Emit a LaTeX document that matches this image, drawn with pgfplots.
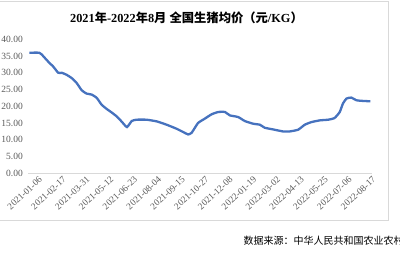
\documentclass[border=0pt]{standalone}
\usepackage{fontspec}
\setmainfont{Liberation Serif}
\newfontfamily\cjk{Noto Sans CJK SC}
\usepackage{pgfplots}
\pgfplotsset{compat=1.18}
\definecolor{linec}{RGB}{70,114,190}
\definecolor{tickc}{RGB}{89,89,89}
\definecolor{framec}{RGB}{217,217,217}
\begin{document}
\begin{tikzpicture}[x=1pt,y=1pt]
\useasboundingbox (0,0) rectangle (400,260);
\clip (0,0) rectangle (400,260);
\draw[framec, line width=0.6pt] (-5,259) rectangle (388.5,40);
\node[anchor=center] at (186.5,242) {\bfseries\fontsize{12.3}{14}\selectfont 2021{\cjk 年}-2022{\cjk 年}8{\cjk 月} {\cjk 全国生猪均价（元}/KG{\cjk ）}};
\node[anchor=west] at (240,19.5) {\cjk\fontsize{10}{12}\selectfont 数据来源：中华人民共和国农业农村部};
\begin{axis}[
  at={(29.3pt,86.7pt)}, anchor=south west,
  scale only axis, width=341.4pt, height=134pt,
  xmin=0, xmax=86, ymin=0, ymax=40,
  axis line style={draw=none},
  major tick length=0pt,
  ytick={0,5,...,40},
  yticklabel style={font=\fontsize{9.5}{10}\selectfont, text=tickc, xshift=-3pt},
  /pgf/number format/.cd, fixed, fixed zerofill, precision=2, assume math mode=true,
  /pgfplots/.cd,
  xtick={0,6,...,84},
  xticklabels={2021-01-06,2021-02-17,2021-03-31,2021-05-12,2021-06-23,2021-08-04,2021-09-15,2021-10-27,2021-12-08,2022-01-19,2022-03-02,2022-04-13,2022-05-25,2022-07-06,2022-08-17},
  xticklabel style={font=\fontsize{9.3}{10}\selectfont, text=tickc, rotate=43, anchor=north east, inner sep=0pt, xshift=5pt, yshift=-8pt},
  clip=false,
]
\draw[framec, line width=0.8pt] (axis cs:-0.3,0) -- (axis cs:86.3,0);
\addplot[linec, line width=2.3pt, smooth, tension=0.3, mark=none] coordinates {
(0.0,36.0) (2.5,36.0) (3.1,35.5) (4.4,33.8) (5.2,32.8) (6.0,31.9) (7.3,30.0)
(8.2,30.0) (9.4,29.4) (10.7,28.4) (11.9,27.0) (13.2,24.8) (14.4,23.8) (15.7,23.5)
(17.0,22.5) (18.2,20.5) (19.5,19.2) (20.7,18.2) (22.0,17.0) (23.3,15.4) (24.6,13.8)
(25.8,15.6) (27.0,16.0) (29.5,16.0) (32.1,15.5) (34.6,14.5) (37.1,13.3) (38.8,12.3)
(40.0,11.6) (40.9,12.1) (42.5,15.0) (44.2,16.3) (45.9,17.6) (47.6,18.3) (49.3,18.3)
(50.5,17.3) (52.6,16.8) (54.3,15.6) (56.4,14.8) (58.1,14.5) (59.3,13.6) (61.4,13.1)
(63.9,12.5) (65.6,12.5) (67.7,13.0) (69.4,14.5) (71.1,15.3) (73.2,15.8) (75.3,16.0)
(76.9,16.5) (78.2,18.3) (79.0,20.8) (79.9,22.3) (81.1,22.6) (82.4,21.8) (84.1,21.6)
(85.9,21.5)
};
\end{axis}
\end{tikzpicture}
\end{document}
